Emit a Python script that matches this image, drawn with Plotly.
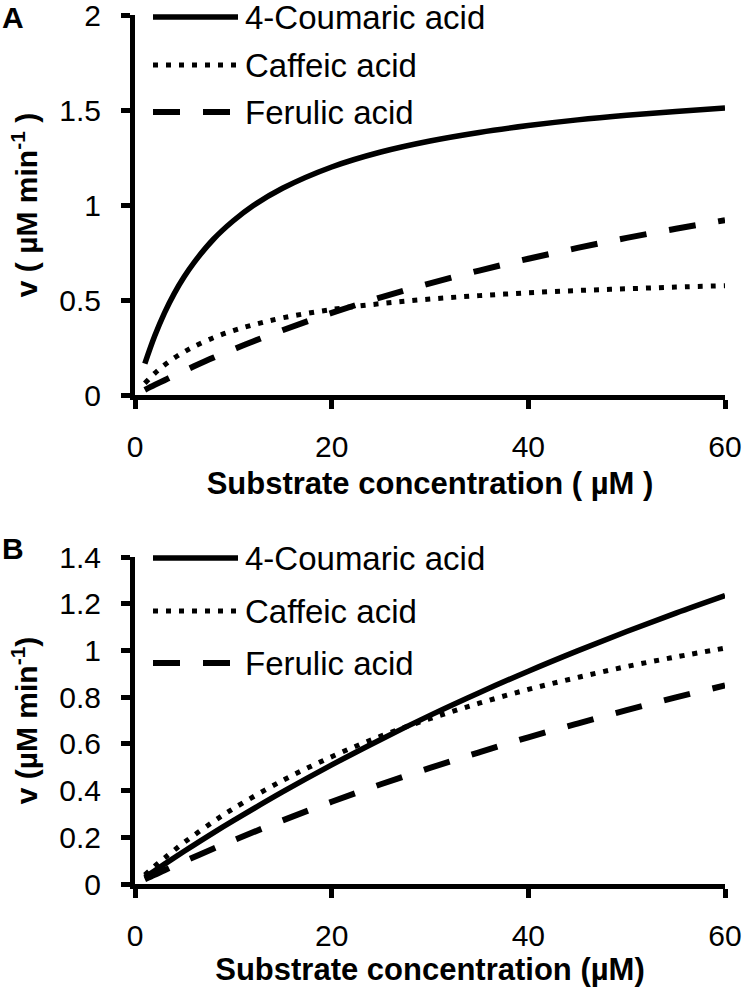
import plotly.graph_objects as go
from plotly.subplots import make_subplots

# ---- data ----
x_a = [1, 2, 3, 4, 5, 6, 8, 10, 12, 15, 20, 25, 30, 35, 40, 45, 50, 55, 60]
coumaric_a = [0.165, 0.310, 0.432, 0.535, 0.622, 0.697, 0.821, 0.917, 0.996, 1.088,
              1.200, 1.279, 1.337, 1.382, 1.418, 1.448, 1.472, 1.492, 1.510]
caffeic_a = [0.062, 0.114, 0.158, 0.195, 0.227, 0.255, 0.302, 0.339, 0.369, 0.406,
             0.450, 0.481, 0.505, 0.523, 0.538, 0.550, 0.559, 0.568, 0.575]
ferulic_a = [0.027, 0.053, 0.078, 0.103, 0.127, 0.151, 0.197, 0.240, 0.282, 0.341,
             0.432, 0.514, 0.588, 0.655, 0.717, 0.774, 0.827, 0.875, 0.920]

x_b = [1, 2, 3, 5, 8, 10, 15, 20, 25, 30, 35, 40, 45, 50, 55, 60]
coumaric_b = [0.029, 0.057, 0.085, 0.140, 0.220, 0.271, 0.394, 0.510, 0.619, 0.722,
              0.819, 0.911, 0.998, 1.081, 1.160, 1.235]
caffeic_b = [0.039, 0.076, 0.111, 0.178, 0.268, 0.323, 0.443, 0.545, 0.633, 0.708,
             0.774, 0.833, 0.884, 0.931, 0.972, 1.010]
ferulic_b = [0.020, 0.039, 0.059, 0.097, 0.152, 0.187, 0.272, 0.352, 0.427, 0.497,
             0.564, 0.628, 0.687, 0.744, 0.799, 0.850]

series_names = ["4-Coumaric acid", "Caffeic acid", "Ferulic acid"]
panel_labels = ["A", "B"]
x_ticks = [0, 20, 40, 60]

# ---- layout geometry ----
W, H = 747, 991
ML, MR, MT, MB = 135, 22, 15, 107
PW, PH = W - ML - MR, H - MT - MB
top_dom = [(884 - 395) / PH, 1.0]
bot_dom = [0.0, (884 - 557) / PH]

FONT = "Liberation Sans, Arial, sans-serif"
styles = [dict(dash="solid", width=5.5),
          dict(dash="5px,8px", width=5),
          dict(dash="27px,23px", width=6)]

fig = make_subplots(rows=2, cols=1)

for xs, ys_list, row in [(x_a, [coumaric_a, caffeic_a, ferulic_a], 1),
                         (x_b, [coumaric_b, caffeic_b, ferulic_b], 2)]:
    for name, ys, st in zip(series_names, ys_list, styles):
        fig.add_trace(go.Scatter(x=xs, y=ys, mode="lines", name=name,
                                 line=dict(color="black", shape="spline", **st),
                                 showlegend=False, hoverinfo="skip"), row=row, col=1)

axis_common = dict(showline=True, linewidth=5, linecolor="black", ticks="outside",
                   ticklen=9, tickwidth=5, tickcolor="black", showgrid=False,
                   zeroline=False, automargin=False, ticklabeloverflow="allow",
                   tickfont=dict(family=FONT, size=30, color="black"))

fig.update_layout(
    width=W, height=H, margin=dict(l=ML, r=MR, t=MT, b=MB, autoexpand=False),
    paper_bgcolor="white", plot_bgcolor="white",
    font=dict(family=FONT, color="black"),
    xaxis=dict(domain=[0, 1], range=[0, 60], tickvals=x_ticks, ticklabelstandoff=12,
               title=dict(text="<b>Substrate concentration ( µM )</b>",
                          font=dict(family=FONT, size=31), standoff=12),
               anchor="y", **axis_common),
    yaxis=dict(domain=top_dom, range=[0, 2], dtick=0.5, ticklabelstandoff=14,
               title=dict(text="<b>v ( µM min<sup>-1</sup> )</b>",
                          font=dict(family=FONT, size=30), standoff=14),
               anchor="x", **axis_common),
    xaxis2=dict(domain=[0, 1], range=[0, 60], tickvals=x_ticks, ticklabelstandoff=12,
                title=dict(text="<b>Substrate concentration (µM)</b>",
                           font=dict(family=FONT, size=31), standoff=8),
                anchor="y2", **axis_common),
    yaxis2=dict(domain=bot_dom, range=[0, 1.4], dtick=0.2, ticklabelstandoff=14,
                title=dict(text="<b>v (µM min<sup>-1</sup>)</b>",
                           font=dict(family=FONT, size=30), standoff=14),
                anchor="x2", **axis_common),
)


def px(xp):
    return (xp - ML) / PW


def py(yp):
    return (H - MB - yp) / PH


shapes, annots = [], []
for label, ly, rows in [(panel_labels[0], 17, [17, 65, 112]),
                        (panel_labels[1], 548, [558, 611, 663])]:
    annots.append(dict(text="<b>%s</b>" % label, x=px(13), y=py(ly), xref="paper",
                       yref="paper", showarrow=False, xanchor="center", yanchor="middle",
                       font=dict(family=FONT, size=30, color="black")))
    for name, st, ry in zip(series_names, styles, rows):
        shapes.append(dict(type="line", xref="paper", yref="paper",
                           x0=px(153), x1=px(238), y0=py(ry), y1=py(ry),
                           line=dict(color="black", **st)))
        annots.append(dict(text=name, x=px(243), y=py(ry), xref="paper", yref="paper",
                           showarrow=False, xanchor="left", yanchor="middle",
                           font=dict(family=FONT, size=33, color="black")))

fig.update_layout(shapes=shapes, annotations=annots)
fig.write_html("out.html", config={"displayModeBar": False},
               post_script="document.body.style.margin='0';"
                           "document.body.style.overflow='hidden';")
